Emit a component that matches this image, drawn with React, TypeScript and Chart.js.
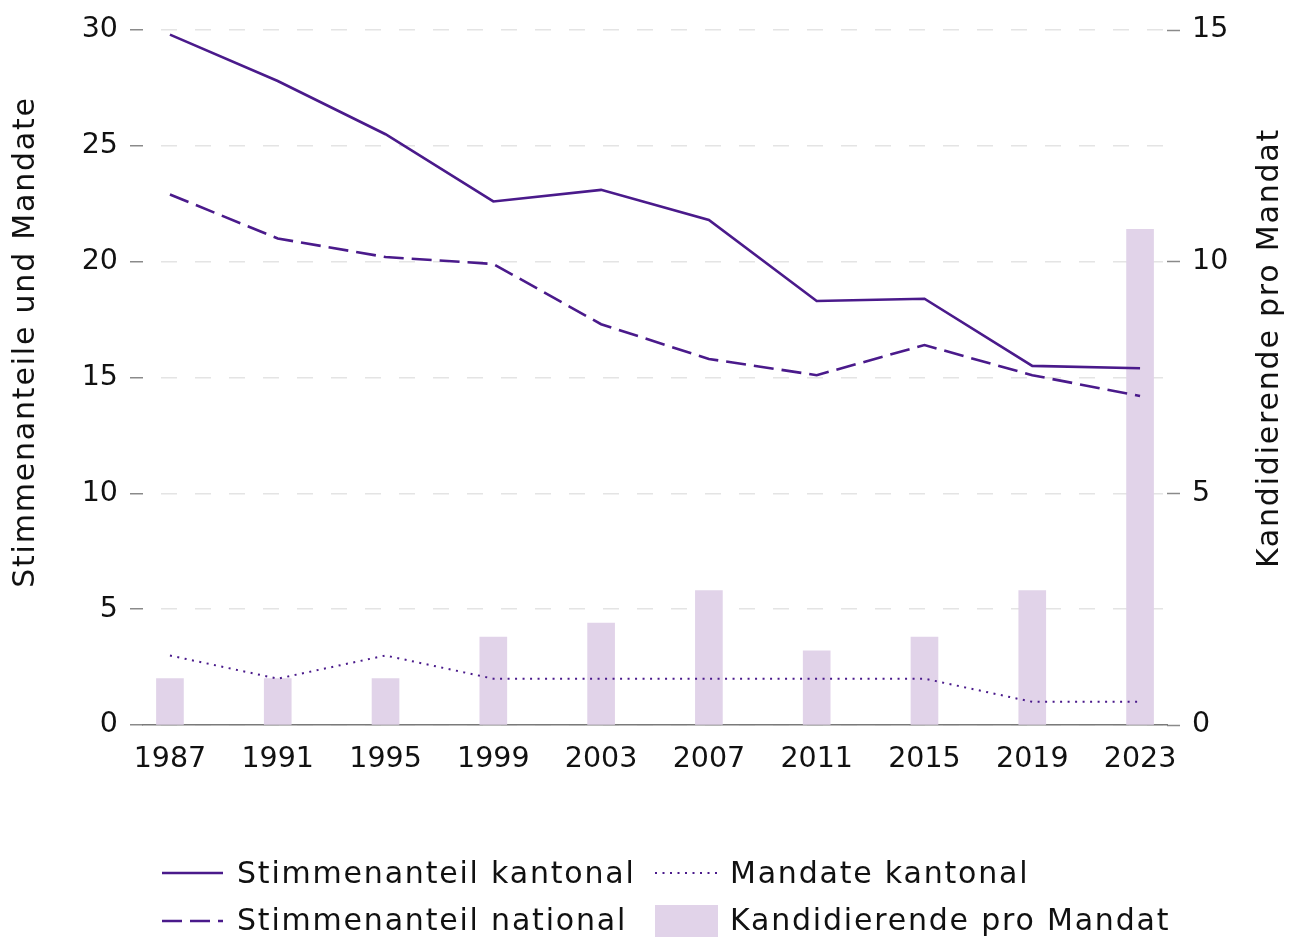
import React, { useEffect, useRef } from "react";
import { Chart, registerables } from "chart.js";
Chart.register(...registerables);

const years = [1987, 1991, 1995, 1999, 2003, 2007, 2011, 2015, 2019, 2023];
const stimmKantonal = [29.8, 27.8, 25.5, 22.6, 23.1, 21.8, 18.3, 18.4, 15.5, 15.4];
const stimmNational = [22.9, 21.0, 20.2, 19.9, 17.3, 15.8, 15.1, 16.4, 15.1, 14.2];
const mandateKantonal = [3, 2, 3, 2, 2, 2, 2, 2, 1, 1];
const kandidierendeProMandat = [1, 1, 1, 1.9, 2.2, 2.9, 1.6, 1.9, 2.9, 10.7];
const leftTicks = [0, 5, 10, 15, 20, 25, 30];
const rightTicks = [0, 5, 10, 15];
const leftTitle = "Stimmenanteile und Mandate";
const rightTitle = "Kandidierende pro Mandat";
const legendLabels = [
  "Stimmenanteil kantonal",
  "Mandate kantonal",
  "Stimmenanteil national",
  "Kandidierende pro Mandat",
];

const FONT = "'DejaVu Sans', sans-serif";
const FS = 30;
const TICK_FS = 28.5;
const LS = 1.8;
const LINE = "#4a1a8b";
const BAR = "#e1d3e9";
const TEXT = "#111111";

const titlesPlugin = {
  id: "axisTitles",
  afterDraw(chart: any) {
    const ctx = chart.ctx;
    const draw = (text: string, x: number, y: number) => {
      ctx.save();
      ctx.fillStyle = TEXT;
      ctx.font = `${FS}px ${FONT}`;
      (ctx as any).letterSpacing = `${LS}px`;
      ctx.textAlign = "center";
      ctx.textBaseline = "middle";
      ctx.translate(x, y);
      ctx.rotate(-Math.PI / 2);
      ctx.fillText(text, 0, 0);
      ctx.restore();
    };
    draw(leftTitle, 26, 342);
    draw(rightTitle, 1270, 348);
  },
};

function App() {
  const ref = useRef<HTMLCanvasElement>(null);
  useEffect(() => {
    const toPts = (vals: number[]) => years.map((x, i) => ({ x, y: vals[i] }));
    const chart = new Chart(ref.current!, {
      type: "bar",
      data: {
        datasets: [
          {
            type: "line",
            label: legendLabels[0],
            data: toPts(stimmKantonal),
            borderColor: LINE,
            borderWidth: 2.6,
            pointRadius: 0,
            yAxisID: "y",
            order: 1,
          } as any,
          {
            type: "line",
            label: legendLabels[2],
            data: toPts(stimmNational),
            borderColor: LINE,
            borderWidth: 2.6,
            borderDash: [20, 8],
            pointRadius: 0,
            yAxisID: "y",
            order: 2,
          },
          {
            type: "line",
            label: legendLabels[1],
            data: toPts(mandateKantonal),
            borderColor: LINE,
            borderWidth: 2,
            borderDash: [2, 5.5],
            pointRadius: 0,
            yAxisID: "y",
            order: 3,
          },
          {
            type: "bar",
            label: legendLabels[3],
            data: toPts(kandidierendeProMandat),
            backgroundColor: BAR,
            barThickness: 27,
            yAxisID: "y2",
            order: 10,
          },
        ],
      },
      options: {
        animation: false,
        responsive: false,
        layout: { padding: { top: 30, left: 0, right: 0, bottom: 0 } },
        plugins: { legend: { display: false }, tooltip: { enabled: false } },
        scales: {
          x: {
            type: "linear",
            offset: false,
            min: 1986,
            max: 2024,
            afterBuildTicks: (s: any) => {
              s.ticks = years.map((v) => ({ value: v }));
            },
            afterFit: (s: any) => {
              s.height = 212;
              s.paddingLeft = 0;
              s.paddingRight = 0;
            },
            grid: { display: false, drawTicks: false },
            border: { display: true, color: "#7a7a7a", width: 1.5 },
            ticks: {
              padding: 17,
              color: TEXT,
              font: { family: FONT, size: TICK_FS },
              maxRotation: 0,
              autoSkip: false,
              callback: (v: any) => String(v),
            },
          },
          y: {
            position: "left",
            min: 0,
            max: 30,
            afterBuildTicks: (s: any) => {
              s.ticks = leftTicks.map((v) => ({ value: v }));
            },
            afterFit: (s: any) => {
              s.width = 143;
            },
            grid: {
              color: "#e4e4e4",
              lineWidth: 1.5,
              drawTicks: true,
              tickLength: 13,
              tickColor: "#8a8a8a",
              tickWidth: 1.5,
            },
            border: { display: false, dash: [16, 18], dashOffset: 16 },
            ticks: {
              padding: 12,
              color: TEXT,
              font: { family: FONT, size: TICK_FS },
            },
          },
          y2: {
            position: "right",
            min: 0,
            max: 15,
            afterBuildTicks: (s: any) => {
              s.ticks = rightTicks.map((v) => ({ value: v }));
            },
            afterFit: (s: any) => {
              s.width = 128;
            },
            grid: {
              drawOnChartArea: false,
              drawTicks: true,
              tickLength: 13,
              tickColor: "#8a8a8a",
              tickWidth: 1.5,
            },
            border: { display: false },
            ticks: {
              padding: 12,
              color: TEXT,
              font: { family: FONT, size: TICK_FS },
            },
          },
        },
      } as any,
      plugins: [titlesPlugin],
    });
    return () => chart.destroy();
  }, []);

  const textStyle: React.CSSProperties = {
    position: "absolute",
    fontFamily: FONT,
    fontSize: FS,
    letterSpacing: `${LS}px`,
    color: TEXT,
    lineHeight: "34px",
    whiteSpace: "nowrap",
  };

  return (
    <div
      style={{
        position: "fixed",
        left: 0,
        top: 0,
        width: 1295,
        height: 937,
        background: "#fff",
        overflow: "hidden",
      }}
    >
      <canvas ref={ref} width={1295} height={937} style={{ display: "block" }} />
      <svg
        width={1295}
        height={937}
        style={{ position: "absolute", left: 0, top: 0, pointerEvents: "none" }}
      >
        <line x1={162} y1={873} x2={223} y2={873} stroke={LINE} strokeWidth={2.6} />
        <line x1={162} y1={921} x2={223} y2={921} stroke={LINE} strokeWidth={2.6} strokeDasharray="20 8" />
        <line x1={655} y1={873} x2={718} y2={873} stroke={LINE} strokeWidth={2} strokeDasharray="2 5.5" />
        <rect x={655} y={905} width={63} height={34} fill={BAR} />
      </svg>
      <div style={{ ...textStyle, left: 237, top: 856 }}>{legendLabels[0]}</div>
      <div style={{ ...textStyle, left: 730, top: 856 }}>{legendLabels[1]}</div>
      <div style={{ ...textStyle, left: 237, top: 903 }}>{legendLabels[2]}</div>
      <div style={{ ...textStyle, left: 730, top: 903 }}>{legendLabels[3]}</div>
    </div>
  );
}

export default App;
